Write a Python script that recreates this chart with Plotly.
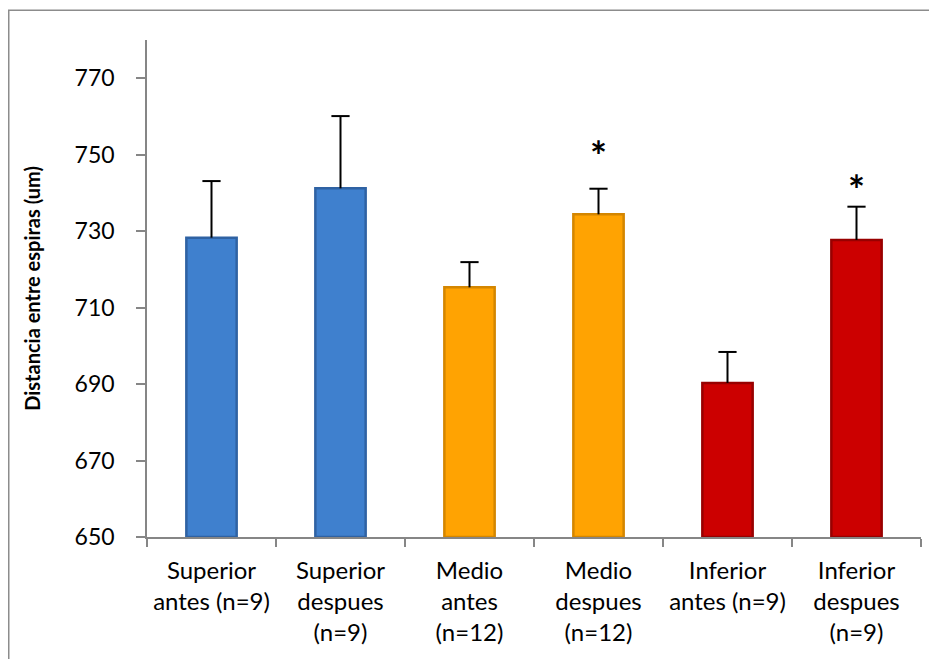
import plotly.graph_objects as go

categories = ["Superior<br>antes (n=9)", "Superior<br>despues<br>(n=9)", "Medio<br>antes<br>(n=12)",
              "Medio<br>despues<br>(n=12)", "Inferior<br>antes (n=9)", "Inferior<br>despues<br>(n=9)"]
means = [728.3, 741.2, 715.3, 734.4, 690.3, 727.7]
errors = [14.8, 18.9, 6.6, 6.7, 8.1, 8.7]
star_cats = [categories[3], categories[5]]
star_y = [752.3, 743.4]
y_ticks = [650, 670, 690, 710, 730, 750, 770]

fill_colors = ["#3F80CE", "#3F80CE", "#FFA302", "#FFA302", "#CC0000", "#CC0000"]
edge_colors = ["#2F62A3", "#2F62A3", "#D48600", "#D48600", "#980000", "#980000"]

FONT = "Lato, 'Open Sans', sans-serif"

fig = go.Figure()
fig.add_trace(go.Bar(
    x=categories, y=[m - 650 for m in means], base=650,
    marker=dict(color=fill_colors, line=dict(color=edge_colors, width=2.5)),
    hoverinfo="skip",
))

# error bars: upward stems with a cap only at the top
stem_x, stem_y = [], []
for c, m, e in zip(categories, means, errors):
    stem_x += [c, c, None]
    stem_y += [m, m + e, None]
fig.add_trace(go.Scatter(x=stem_x, y=stem_y, mode="lines", line=dict(color="black", width=2),
                         hoverinfo="skip", cliponaxis=False))
fig.add_trace(go.Scatter(x=categories, y=[m + e for m, e in zip(means, errors)], mode="markers",
                         marker=dict(symbol="line-ew-open", size=13, color="black",
                                     line=dict(color="black", width=2)),
                         hoverinfo="skip", cliponaxis=False))

for c, yv in zip(star_cats, star_y):
    fig.add_annotation(x=c, y=yv, text="<b>*</b>", showarrow=False, yanchor="middle",
                       yshift=-10, font=dict(size=40, color="black", family=FONT))

# page has an 8px body margin; size the figure so it fits the 937x659 window
W, H = 929, 651
L, R, T, B = 139, 16, 32, 122
pw, ph = W - L - R, H - T - B
fig.add_shape(type="rect", xref="paper", yref="paper",
              x0=(0.75 - L) / pw, x1=1 + (R + 10) / pw,
              y0=-(B + 10) / ph, y1=1 + (T - 2.25) / ph,
              line=dict(color="#8C8C8C", width=1.5), fillcolor="rgba(0,0,0,0)", layer="below")

fig.update_layout(
    width=W, height=H,
    margin=dict(l=L, r=R, t=T, b=B, pad=0),
    paper_bgcolor="white", plot_bgcolor="white",
    bargap=0.61, showlegend=False,
    font=dict(family=FONT, size=23, color="black"),
    xaxis=dict(type="category", showline=True, linecolor="#868686", linewidth=1.5,
               ticks="outside", tickson="boundaries", ticklen=8, tickcolor="#868686", tickwidth=1.5,
               showgrid=False, tickfont=dict(size=24), ticklabelstandoff=11),
    yaxis=dict(range=[650, 780], tickvals=y_ticks, showline=True, linecolor="#868686", linewidth=1.5,
               ticks="outside", ticklen=9, tickcolor="#868686", tickwidth=1.5, showgrid=False,
               zeroline=False, tickfont=dict(size=23), ticklabelstandoff=17,
               title=dict(text="<b>Distancia entre espiras (um)</b>", font=dict(size=20), standoff=29)),
)

fig.write_html("out.html")
